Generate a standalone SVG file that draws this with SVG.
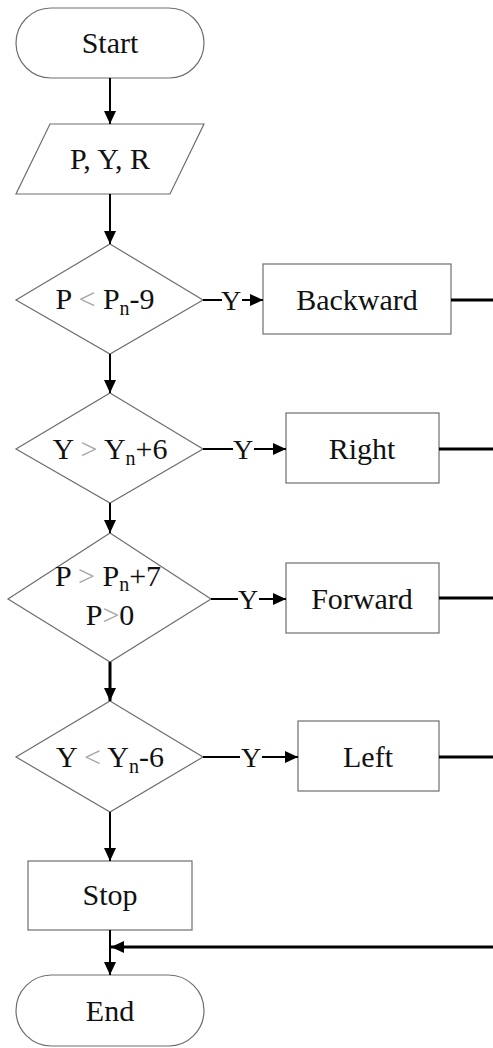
<svg xmlns="http://www.w3.org/2000/svg" width="493" height="1048" viewBox="0 0 493 1048">
<style>
.shape{fill:#fff;stroke:#6e6e6e;stroke-width:1.2}
.t{font-family:"Liberation Serif","Times New Roman",serif;font-size:30px;fill:#111;text-anchor:middle}
.y{font-family:"Liberation Serif","Times New Roman",serif;font-size:28px;fill:#111;text-anchor:middle}
.op{fill:#a8a8a8}
.c{stroke:#000;stroke-width:2;fill:none}
.ct{stroke:#000;stroke-width:3;fill:none}
</style>
<defs>
<marker id="ah" markerUnits="userSpaceOnUse" markerWidth="14" markerHeight="12" refX="13" refY="6" orient="auto">
<path d="M0,0 L13,6 L0,12 Z" fill="#000"/>
</marker>
</defs>
<rect width="493" height="1048" fill="#fff"/>
<g id="start"><rect class="shape" x="16" y="8" width="188" height="70" rx="35"/><text class="t" x="110" y="53">Start</text></g>
<g id="input"><polygon class="shape" points="50,124 204,124 170,194 16,194"/><text class="t" x="110" y="169">P, Y, R</text></g>
<g id="d1"><polygon class="shape" points="110,244 203,300 110,354 16,300"/><text class="t" x="105" y="309">P <tspan class="op">&lt;</tspan> P<tspan font-size="20" dy="6">n</tspan><tspan dy="-6">-9</tspan></text></g>
<g id="backward"><rect class="shape" x="263" y="264" width="188" height="70"/><text class="t" x="357" y="310">Backward</text></g>
<g id="d2"><polygon class="shape" points="110,393 203,449 110,503 16,449"/><text class="t" x="110" y="459">Y <tspan class="op">&gt;</tspan> Y<tspan font-size="20" dy="6">n</tspan><tspan dy="-6">+6</tspan></text></g>
<g id="right"><rect class="shape" x="286" y="413" width="153" height="70"/><text class="t" x="362" y="459">Right</text></g>
<g id="d3"><polygon class="shape" points="110,533 211,599 110,662 8,599"/><text class="t" x="108" y="586">P <tspan class="op">&gt;</tspan> P<tspan font-size="20" dy="5">n</tspan><tspan dy="-5">+7</tspan></text><text class="t" x="110" y="625">P<tspan class="op">&gt;</tspan>0</text></g>
<g id="forward"><rect class="shape" x="286" y="563" width="153" height="70"/><text class="t" x="362" y="609">Forward</text></g>
<g id="d4"><polygon class="shape" points="110,701 203,757 110,812 16,757"/><text class="t" x="110" y="767">Y <tspan class="op">&lt;</tspan> Y<tspan font-size="20" dy="6">n</tspan><tspan dy="-6">-6</tspan></text></g>
<g id="left"><rect class="shape" x="298" y="721" width="141" height="70"/><text class="t" x="368" y="767">Left</text></g>
<g id="stop"><rect class="shape" x="28" y="861" width="164" height="69"/><text class="t" x="110" y="905">Stop</text></g>
<g id="end"><rect class="shape" x="16" y="975" width="188" height="71" rx="35.5"/><text class="t" x="110" y="1021">End</text></g>
<g id="connectors">
<line class="c" x1="110" y1="78" x2="110" y2="124" marker-end="url(#ah)"/>
<line class="c" x1="110" y1="194" x2="110" y2="244" marker-end="url(#ah)"/>
<line class="c" x1="110" y1="354" x2="110" y2="393" marker-end="url(#ah)"/>
<line class="c" x1="110" y1="503" x2="110" y2="533" marker-end="url(#ah)"/>
<line class="ct" x1="110" y1="662" x2="110" y2="701" marker-end="url(#ah)"/>
<line class="c" x1="110" y1="812" x2="110" y2="861" marker-end="url(#ah)"/>
<line class="c" x1="110" y1="930" x2="110" y2="975" marker-end="url(#ah)"/>
<line class="ct" x1="493" y1="947" x2="111" y2="947" marker-end="url(#ah)"/>
<line class="c" x1="203" y1="300" x2="222" y2="300"/>
<text class="y" x="231" y="310">Y</text>
<line class="c" x1="242" y1="300" x2="263" y2="300" marker-end="url(#ah)"/>
<line class="c" x1="203" y1="449" x2="233" y2="449"/>
<text class="y" x="243" y="459">Y</text>
<line class="c" x1="254" y1="449" x2="286" y2="449" marker-end="url(#ah)"/>
<line class="c" x1="211" y1="599" x2="238" y2="599"/>
<text class="y" x="248" y="609">Y</text>
<line class="c" x1="259" y1="599" x2="286" y2="599" marker-end="url(#ah)"/>
<line class="c" x1="203" y1="757" x2="240" y2="757"/>
<text class="y" x="251" y="767">Y</text>
<line class="c" x1="262" y1="757" x2="298" y2="757" marker-end="url(#ah)"/>
<line class="ct" x1="451" y1="300" x2="493" y2="300"/>
<line class="ct" x1="439" y1="449" x2="493" y2="449"/>
<line class="ct" x1="439" y1="598" x2="493" y2="598"/>
<line class="ct" x1="439" y1="757" x2="493" y2="757"/>
</g>
</svg>
